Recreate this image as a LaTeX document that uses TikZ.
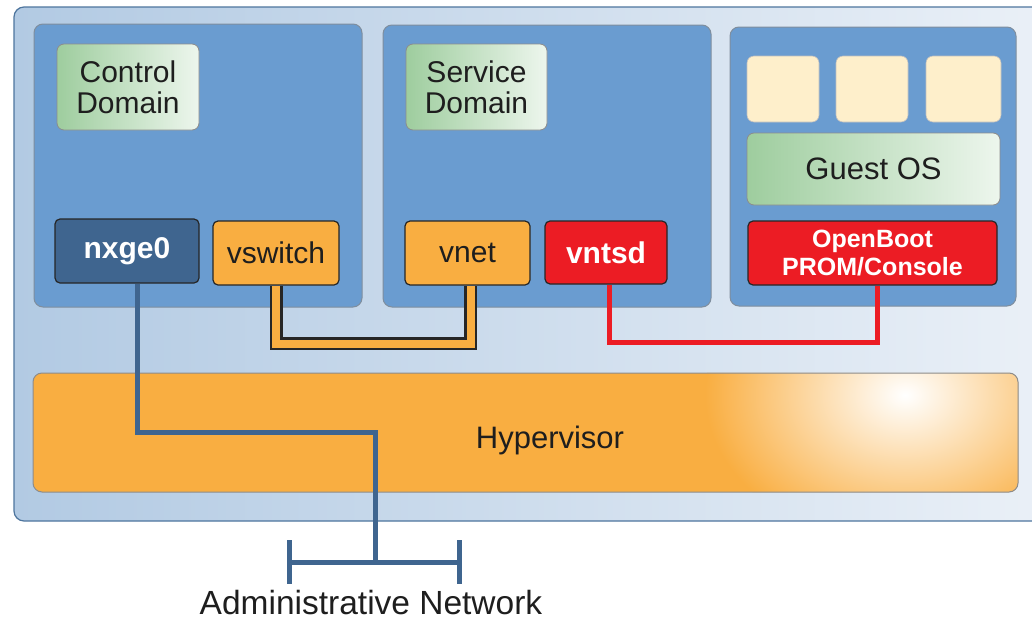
\documentclass[tikz,border=0pt]{standalone}
\usepackage{fontspec}
\setmainfont{Liberation Sans}
\definecolor{bgL}{HTML}{B2CAE3}
\definecolor{bgR}{HTML}{EAF0F7}
\definecolor{bgBorder}{HTML}{4E759E}
\definecolor{panel}{HTML}{6A9CD0}
\definecolor{panelBorder}{HTML}{7F8E9E}
\definecolor{navy}{HTML}{3F658F}
\definecolor{orng}{HTML}{F9AE41}
\definecolor{rd}{HTML}{EC1C24}
\definecolor{cream}{HTML}{FEEFCB}
\definecolor{grnL}{HTML}{9ECD9E}
\definecolor{grnR}{HTML}{EDF6ED}
\definecolor{txt}{HTML}{1E1E1E}
\begin{document}
\begin{tikzpicture}[x=1pt,y=-1pt,
  outerbox/.style={draw=bgBorder, line width=1.2pt, left color=bgL, right color=bgR, rounded corners=10pt, inner sep=0pt},
  panelbox/.style={draw=panelBorder, fill=panel, rounded corners=9pt, line width=1pt, inner sep=0pt},
  domainbox/.style={draw=black!45, left color=grnL, right color=grnR, rounded corners=7pt, line width=0.8pt, align=center, inner sep=0pt, text=txt, font=\fontsize{30}{31}\selectfont},
  creambox/.style={draw=black!25, fill=cream, rounded corners=7pt, line width=0.6pt, inner sep=0pt},
  devbox/.style={draw=black!85, rounded corners=5pt, line width=1.2pt, inner sep=0pt, align=center},
  normtext/.style={text=txt, font=\fontsize{30}{31}\selectfont},
  boldtext/.style={text=white, font=\fontsize{30}{31}\selectfont\bfseries},
  netline/.style={draw=navy, line width=5pt},
  redline/.style={draw=rd, line width=5pt}
]
\useasboundingbox (0,0) rectangle (1032,621);
\fill[white] (0,0) rectangle (1032,621);

% outer container
\node[outerbox, minimum width=1031pt, minimum height=514pt] (outer) at (529.5,264) {};

% panels
\node[panelbox, minimum width=328pt, minimum height=283pt] (ctrlpanel) at (198,165.5) {};
\node[panelbox, minimum width=328pt, minimum height=282pt] (svcpanel) at (547,166) {};
\node[panelbox, minimum width=286pt, minimum height=279pt] (guestpanel) at (873,166.5) {};

% domain labels
\node[domainbox, minimum width=142pt, minimum height=86pt] (cd) at (128,87) {Control\\Domain};
\node[domainbox, minimum width=141pt, minimum height=86pt] (sd) at (476.5,87) {Service\\Domain};

% guest content
\node[creambox, minimum width=72pt, minimum height=66pt] (app1) at (783,89) {};
\node[creambox, minimum width=72pt, minimum height=66pt] (app2) at (872,89) {};
\node[creambox, minimum width=75pt, minimum height=66pt] (app3) at (963.5,89) {};
\node[domainbox, minimum width=253pt, minimum height=72pt, font=\fontsize{31}{32}\selectfont] (guestos) at (873.5,169) {Guest OS};
\node[devbox, fill=rd, text=white, font=\fontsize{25}{28}\selectfont\bfseries, minimum width=249pt, minimum height=64pt] (openboot) at (872.5,253) {OpenBoot\\PROM/Console};

% devices
\node[devbox, fill=navy, boldtext, minimum width=144pt, minimum height=64pt] (nxge) at (127,251) {nxge0};
\node[devbox, fill=orng, normtext, minimum width=126pt, minimum height=64pt] (vswitch) at (276,253) {vswitch};
\node[devbox, fill=orng, normtext, minimum width=125pt, minimum height=64pt] (vnet) at (467.5,253) {vnet};
\node[devbox, fill=rd, boldtext, minimum width=122pt, minimum height=63pt] (vntsd) at (606,252.5) {vntsd};

% hypervisor
\node[fill=orng, rounded corners=9pt, inner sep=0pt, minimum width=985pt, minimum height=119pt] (hypfill) at (525.5,432.5) {};
\begin{scope}
  \clip[rounded corners=9pt] (hypfill.north west) rectangle (hypfill.south east);
  \shade[inner color=white, outer color=orng] (905,395) ellipse (200pt and 150pt);
\end{scope}
\node[draw=black!45, line width=1pt, rounded corners=9pt, inner sep=0pt, minimum width=985pt, minimum height=119pt] (hyp) at (525.5,432.5) {};
\node[normtext, font=\fontsize{31}{32}\selectfont] (hyplabel) at (550,440) {Hypervisor};

% virtual switch link
\draw[line width=13pt, black!85] (vswitch.south) -- ++(0,58) -| ([xshift=3pt]vnet.south);
\draw[line width=8pt, orng] (vswitch.south) -- ++(0,58) -| ([xshift=3pt]vnet.south);

% console link
\draw[redline] ([xshift=3pt]vntsd.south) -- ++(0,58) -| ([xshift=5pt]openboot.south);

% administrative network
\coordinate (netL) at (289,562);
\coordinate (netR) at (459,562);
\coordinate (netM) at (375,562);
\draw[netline] ([xshift=10pt]nxge.south) -- ++(0,149) -| (netM);
\draw[netline] (netL) -- (netR);
\draw[netline] (netL) ++(0,-22) -- ++(0,44);
\draw[netline] (netR) ++(0,-22) -- ++(0,44);
\node[normtext, inner sep=0pt, font=\fontsize{33.5}{34}\selectfont] (adminlabel) at (371,603) {Administrative Network};
\end{tikzpicture}
\end{document}
